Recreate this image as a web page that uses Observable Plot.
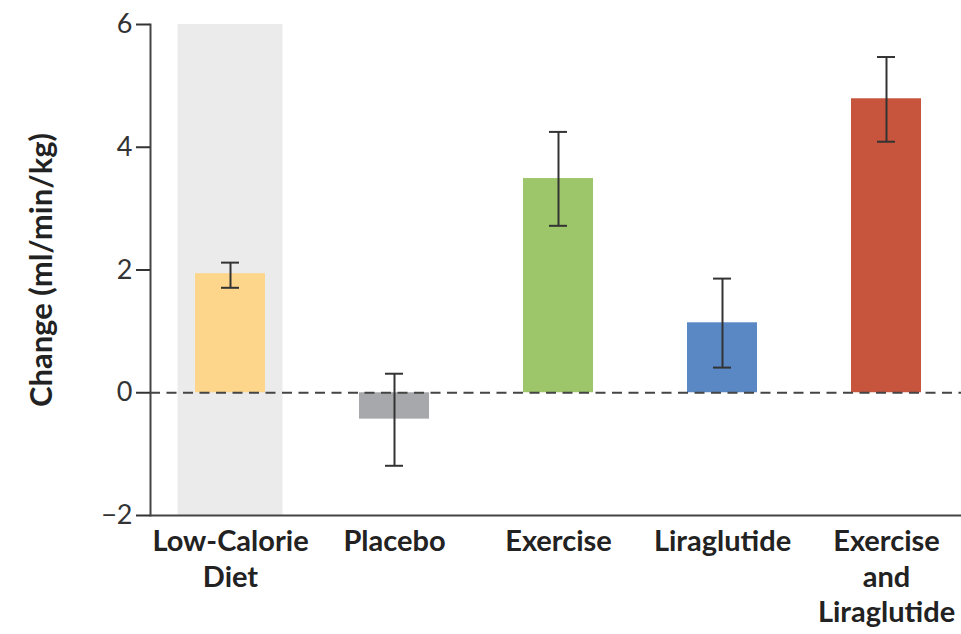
<!DOCTYPE html>
<html>
<head>
<meta charset="utf-8">
<script src="https://cdn.jsdelivr.net/npm/d3@7"></script>
<script src="https://cdn.jsdelivr.net/npm/@observablehq/plot@0.6"></script>
<style>
  html, body { margin: 0; padding: 0; background: #ffffff; }
</style>
</head>
<body>
<div id="chart"></div>
<script>
const categories = ["Low-Calorie Diet", "Placebo", "Exercise", "Liraglutide", "Exercise and Liraglutide"];
const labels = ["Low-Calorie\nDiet", "Placebo", "Exercise", "Liraglutide", "Exercise\nand\nLiraglutide"];
const means = [1.94, -0.43, 3.49, 1.14, 4.79];
const lower = [1.71, -1.19, 2.72, 0.41, 4.09];
const upper = [2.12, 0.31, 4.25, 1.86, 5.47];
const colors = ["#fdd58b", "#a7a8ab", "#9dc56a", "#5a88c5", "#c7553e"];
const highlighted = ["Low-Calorie Diet"];
const yTicks = [-2, 0, 2, 4, 6];
const yLabel = "Change (ml/min/kg)";

const data = categories.map((c, i) => ({cat: c, mean: means[i], lo: lower[i], hi: upper[i]}));

const font = "Lato, 'Open Sans', sans-serif";
const ink = "#333";

const chart = Plot.plot({
  width: 961,
  height: 634,
  marginTop: 24,
  marginBottom: 119,
  marginLeft: 150,
  marginRight: 0,
  style: {fontFamily: font, background: "#ffffff"},
  x: {domain: categories, range: [150, 965.5], paddingInner: 0.575, paddingOuter: 0.264, align: 0.5, axis: null},
  y: {domain: [-2, 6], axis: null},
  color: {domain: categories, range: colors},
  marks: [
    Plot.barY(highlighted, {x: d => d, y1: -2, y2: 6, fill: "#ebebeb", insetLeft: -17.5, insetRight: -17.5}),
    Plot.barY(data, {x: "cat", y: "mean", fill: "cat"}),
    Plot.ruleY([0], {stroke: "#444", strokeWidth: 2, strokeDasharray: "10,6.5"}),
    Plot.ruleY([-2], {stroke: "#444", strokeWidth: 2}),
    Plot.frame({anchor: "left", stroke: "#444", strokeWidth: 2}),
    Plot.ruleX(data, {x: "cat", y1: "lo", y2: "hi", stroke: "#333", strokeWidth: 2}),
    Plot.tickY(data, {x: "cat", y: "lo", insetLeft: 26, insetRight: 26, stroke: "#333", strokeWidth: 2}),
    Plot.tickY(data, {x: "cat", y: "hi", insetLeft: 26, insetRight: 26, stroke: "#333", strokeWidth: 2}),
    Plot.axisY({ticks: yTicks, tickSize: 14, tickPadding: 4, fontSize: 27, color: ink, strokeWidth: 2, label: null}),
    Plot.text(categories, {x: d => d, text: (d, i) => labels[i], frameAnchor: "bottom", lineAnchor: "top", dy: 11, fontSize: 29, fontWeight: "bold", lineHeight: 1.21, fill: "#222"}),
    Plot.text([yLabel], {frameAnchor: "left", textAnchor: "middle", rotate: -90, dx: -108, fontSize: 31, fontWeight: "bold", fill: "#222"})
  ]
});
document.getElementById("chart").appendChild(chart);
</script>
</body>
</html>
